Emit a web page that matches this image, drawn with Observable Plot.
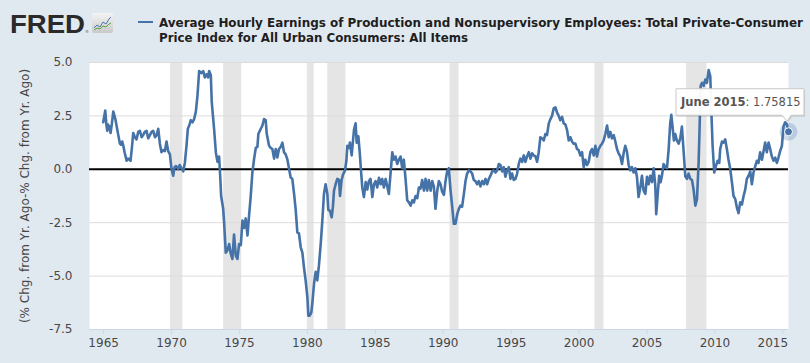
<!DOCTYPE html>
<html>
<head>
<meta charset="utf-8">
<script src="https://cdn.jsdelivr.net/npm/d3@7"></script>
<script src="https://cdn.jsdelivr.net/npm/@observablehq/plot@0.6"></script>
<style>
  html, body { margin: 0; padding: 0; background: #e1e9f0; }
  #wrap { position: relative; width: 810px; height: 363px; overflow: hidden; background: #e1e9f0; }
  #header { display: block; }
  #overlay { position: absolute; left: 0; top: 0; pointer-events: none; }
</style>
</head>
<body>
<div id="wrap">
  <svg id="header" width="810" height="50" xmlns="http://www.w3.org/2000/svg">
    <defs>
      <linearGradient id="icong" x1="0" y1="0" x2="0" y2="1">
        <stop offset="0" stop-color="#f4f4f4"/>
        <stop offset="1" stop-color="#c9c9c9"/>
      </linearGradient>
    </defs>
    <text x="10" y="33" font-family="Liberation Sans, Arial, sans-serif" font-weight="bold" font-size="26.5" fill="#2a2a2a" textLength="75" lengthAdjust="spacingAndGlyphs">FRED</text>
    <text x="85" y="33" font-family="DejaVu Sans, sans-serif" font-size="4" fill="#555">®</text>
    <rect x="92" y="13" width="21" height="20" rx="2" fill="url(#icong)"/>
    <polyline points="94,28 97,25 100,27 103,22 106,24 109,19 111,17" fill="none" stroke="#4a78b0" stroke-width="1"/>
    <polyline points="94,30 97,28 100,29 103,26 106,27 109,24 111,23" fill="none" stroke="#5aa24a" stroke-width="1"/>
    <line x1="138" x2="153" y1="22" y2="22" stroke="#4572a7" stroke-width="2"/>
    <text id="t1" x="159" y="27" font-family="DejaVu Sans Condensed, DejaVu Sans, sans-serif" font-weight="bold" font-size="13" fill="#1e1e1e" textLength="644" lengthAdjust="spacingAndGlyphs">Average Hourly Earnings of Production and Nonsupervisory Employees: Total Private-Consumer</text>
    <text id="t2" x="159" y="42" font-family="DejaVu Sans Condensed, DejaVu Sans, sans-serif" font-weight="bold" font-size="13" fill="#1e1e1e" textLength="309" lengthAdjust="spacingAndGlyphs">Price Index for All Urban Consumers: All Items</text>
  </svg>
  <div id="chart"></div>
  <svg id="overlay" width="810" height="363" xmlns="http://www.w3.org/2000/svg"></svg>
</div>
<script>
// ---- Data (decimal year, percentage-point difference) ----
const t1965 = [1964.97,1965.05,1965.12,1965.2,1965.27,1965.33,1965.39,1965.45,1965.51,1965.6,1965.71,1965.8,1965.88,1965.98,1966.08,1966.2,1966.28,1966.37,1966.45,1966.54,1966.62,1966.69,1966.8,1966.9,1966.98,1967.08,1967.18,1967.3,1967.42,1967.55,1967.67,1967.8,1967.91,1968.03,1968.16,1968.28,1968.41,1968.53,1968.65,1968.78,1968.9,1969.02,1969.14,1969.26,1969.38,1969.51,1969.63,1969.75,1969.88,1970.0,1970.12,1970.22,1970.32,1970.42,1970.49,1970.6,1970.73,1970.86,1970.98,1971.1,1971.2,1971.3,1971.42,1971.54,1971.66,1971.79,1971.91,1972.03,1972.12,1972.2,1972.33,1972.45,1972.57,1972.69,1972.77,1972.89,1972.96,1973.13,1973.26,1973.38,1973.5,1973.58,1973.65,1973.8,1973.87,1973.99,1974.11,1974.24,1974.36,1974.48,1974.6,1974.73,1974.85,1974.97];
const v1965 = [2.2,2.5,2.75,2.1,1.8,2.1,1.9,2.0,1.7,2.1,2.7,2.5,2.3,1.95,1.6,1.2,1.15,1.3,1.1,0.8,0.6,0.4,0.5,0.45,0.4,1.0,1.7,1.5,1.4,1.75,1.8,1.5,1.6,1.75,1.8,1.45,1.6,1.75,1.8,1.5,1.6,1.9,1.2,0.8,0.9,0.85,1.3,0.85,0.7,0.0,-0.3,0.1,0.15,0.1,0.0,0.2,0.05,-0.1,0.3,1.1,1.9,2.05,2.3,2.2,2.35,2.7,3.45,4.6,4.55,4.5,4.6,4.3,4.45,4.3,4.6,4.4,3.15,1.9,0.8,0.35,0.6,-0.3,-1.25,-1.85,-2.5,-3.9,-3.8,-3.5,-3.95,-4.2,-3.05,-4.05,-4.2,-3.5];

const t1975 = [1975.1,1975.22,1975.34,1975.46,1975.59,1975.71,1975.83,1975.95,1976.08,1976.2,1976.32,1976.39,1976.57,1976.69,1976.81,1976.93,1977.01,1977.18,1977.3,1977.42,1977.55,1977.67,1977.79,1977.91,1978.04,1978.16,1978.28,1978.4,1978.53,1978.65,1978.77,1978.89,1979.02,1979.14,1979.26,1979.38,1979.51,1979.63,1979.75,1979.87,1980.0,1980.07,1980.17,1980.29,1980.36,1980.49,1980.61,1980.73,1980.85,1980.98,1981.1,1981.22,1981.34,1981.47,1981.54,1981.66,1981.79,1981.88,1981.96,1982.08,1982.2,1982.33,1982.4,1982.52,1982.62,1982.77,1982.87,1982.94,1983.06,1983.13,1983.26,1983.43,1983.55,1983.63,1983.75,1983.84,1983.94,1984.04,1984.16,1984.29,1984.41,1984.53,1984.65,1984.78,1984.9];
const v1975 = [-3.55,-2.4,-2.75,-2.3,-3.1,-2.15,-1.25,-0.15,0.5,1.0,1.05,1.65,1.9,2.05,2.35,2.3,1.65,1.1,1.0,0.95,0.5,0.95,0.55,0.95,1.05,1.25,0.8,0.7,0.45,0.02,-0.38,-0.45,-1.15,-1.9,-2.95,-3.0,-3.65,-3.9,-4.6,-5.2,-6.0,-6.85,-6.85,-6.7,-6.3,-5.35,-4.8,-5.2,-4.5,-3.5,-2.4,-1.15,-0.7,-1.15,-1.9,-1.95,-2.25,-1.75,-1.0,-0.7,-0.45,-0.5,-1.25,-0.5,-0.25,-0.05,0.4,1.1,1.0,1.25,0.65,1.85,2.15,1.25,1.55,0.9,0.0,-0.85,-1.3,-0.6,-0.95,-0.55,-0.45,-1.3,-0.7];

const t1985 = [1985.02,1985.14,1985.27,1985.39,1985.51,1985.63,1985.76,1985.88,1986.0,1986.12,1986.25,1986.37,1986.49,1986.61,1986.74,1986.86,1986.98,1987.1,1987.23,1987.35,1987.47,1987.6,1987.72,1987.84,1987.96,1988.09,1988.21,1988.33,1988.45,1988.58,1988.7,1988.82,1988.94,1989.07,1989.19,1989.31,1989.43,1989.56,1989.68,1989.8,1989.92,1990.05,1990.17,1990.29,1990.41,1990.54,1990.66,1990.78,1990.9,1991.03,1991.15,1991.27,1991.39,1991.52,1991.64,1991.76,1991.88,1992.01,1992.13,1992.25,1992.37,1992.5,1992.62,1992.74,1992.87,1992.99,1993.11,1993.23,1993.36,1993.48,1993.6,1993.72,1993.85,1993.97,1994.09,1994.21,1994.34,1994.46,1994.58,1994.7,1994.83,1994.95];
const v1985 = [-0.55,-0.85,-0.4,-0.7,-0.45,-0.85,-0.45,-0.8,-1.15,-0.2,0.8,0.45,0.6,0.25,0.45,0.6,0.05,0.45,-0.5,-1.45,-1.55,-1.7,-1.45,-1.55,-1.25,-1.35,-0.85,-0.9,-0.5,-1.0,-0.45,-1.0,-0.5,-1.0,-0.55,-0.8,-1.85,-1.0,-0.55,-0.7,-1.05,-1.2,-0.55,-0.1,0.05,-1.0,-1.75,-2.55,-2.55,-2.1,-1.85,-1.7,-1.75,-1.15,-0.55,-0.2,-0.05,-0.1,-0.2,-0.5,-0.55,-0.7,-0.55,-0.8,-0.55,-0.7,-0.45,-0.7,-0.45,-0.3,-0.1,-0.05,-0.15,-0.05,0.25,0.2,-0.1,0.1,-0.35,-0.05,0.1,-0.45];

const t1995 = [1995.07,1995.19,1995.32,1995.44,1995.56,1995.68,1995.81,1995.93,1996.05,1996.17,1996.3,1996.42,1996.54,1996.66,1996.79,1996.91,1997.03,1997.15,1997.28,1997.4,1997.52,1997.64,1997.77,1997.89,1998.01,1998.13,1998.26,1998.38,1998.5,1998.62,1998.75,1998.87,1998.99,1999.11,1999.24,1999.36,1999.48,1999.6,1999.73,1999.85,1999.97,2000.09,2000.22,2000.34,2000.46,2000.59,2000.71,2000.83,2000.95,2001.08,2001.2,2001.32,2001.44,2001.57,2001.69,2001.81,2001.93,2002.06,2002.18,2002.3,2002.42,2002.55,2002.67,2002.79,2002.91,2003.04,2003.16,2003.28,2003.4,2003.53,2003.65,2003.77,2003.89,2004.02,2004.14,2004.26,2004.38,2004.51,2004.63,2004.75,2004.88];
const v1995 = [-0.2,-0.5,-0.45,-0.2,0.25,0.5,0.35,0.65,0.35,0.6,0.8,0.5,0.75,0.65,0.6,0.35,0.8,1.5,1.45,1.35,1.65,1.6,2.15,2.35,2.5,2.85,2.9,2.65,2.5,2.3,2.45,2.15,2.1,1.85,1.35,1.5,1.3,1.2,1.2,0.95,0.9,0.65,0.8,0.1,0.45,0.2,0.35,0.8,0.95,0.65,1.1,0.6,0.95,1.1,1.2,1.35,1.65,2.05,1.5,1.75,1.45,1.6,1.3,0.95,0.75,0.6,0.25,0.75,1.1,0.8,0.2,-0.05,0.1,-0.15,0.05,-0.35,-1.3,-0.85,-0.3,-1.0,-1.15];

const t2005 = [2005.0,2005.12,2005.24,2005.37,2005.49,2005.61,2005.68,2005.81,2005.9,2006.0,2006.1,2006.22,2006.35,2006.47,2006.59,2006.71,2006.79,2006.88,2006.98,2007.08,2007.2,2007.33,2007.45,2007.57,2007.69,2007.82,2007.94,2008.06,2008.19,2008.31,2008.43,2008.56,2008.68,2008.8,2008.87,2008.95,2009.05,2009.17,2009.29,2009.41,2009.54,2009.66,2009.73,2009.83,2009.95,2010.07,2010.2,2010.32,2010.39,2010.52,2010.64,2010.76,2010.88,2011.0,2011.13,2011.25,2011.37,2011.5,2011.62,2011.74,2011.86,2011.99,2012.11,2012.23,2012.35,2012.48,2012.6,2012.72,2012.84,2012.97,2013.09,2013.21,2013.33,2013.46,2013.58,2013.7,2013.82,2013.95,2014.07,2014.19,2014.32,2014.44,2014.56,2014.68,2014.8,2014.93,2015.05,2015.17,2015.3,2015.417];
const v2005 = [-0.35,-0.7,-0.3,-0.6,0.05,-0.75,-2.1,-1.0,-0.3,-0.6,-0.3,0.25,0.1,0.05,0.9,2.15,2.55,2.0,1.35,1.65,1.35,1.2,1.45,2.0,0.9,-0.33,-0.45,-0.2,-0.45,-0.5,-0.95,-1.7,-1.4,0.3,1.9,3.9,4.05,3.9,4.2,4.05,4.65,4.35,2.85,1.1,-0.15,0.15,0.4,0.3,0.95,1.3,1.25,1.4,0.95,0.45,0.0,-0.6,-1.25,-1.4,-1.8,-2.05,-1.55,-1.65,-1.25,-0.95,-0.45,-0.3,-0.1,-0.7,-0.15,0.15,0.4,0.3,0.8,0.45,0.85,1.25,0.8,1.25,0.95,0.6,0.4,0.55,0.3,0.55,0.85,1.1,2.0,2.2,2.1,1.758];

// Recessions (decimal-year start/end of shading)
const recStart = [1969.917, 1973.833, 1980.0, 1981.5, 1990.5, 2001.167, 2007.917];
const recEnd   = [1970.833, 1975.167, 1980.5, 1982.833, 1991.167, 2001.833, 2009.417];

// Axis ticks
const xTicks = [1965, 1970, 1975, 1980, 1985, 1990, 1995, 2000, 2005, 2010, 2015];
const yTicks = [-7.5, -5, -2.5, 0, 2.5, 5];
const yGrid = [-5, -2.5, 2.5, 5];

const yLabel = "(% Chg. from Yr. Ago-% Chg. from Yr. Ago)";
const tipDate = "June 2015";
const tipValue = "1.75815";

// ---- Build table ----
const series = [];
[[t1965, v1965], [t1975, v1975], [t1985, v1985], [t1995, v1995], [t2005, v2005]].forEach(([t, v]) => {
  t.forEach((d, i) => series.push({t: d, v: v[i]}));
});
const recessions = recStart.map((s, i) => ({s, e: recEnd[i]}));
const last = [series[series.length - 1]];

const lineColor = "#4572a7";

const plot = Plot.plot({
  width: 810,
  height: 313,
  marginTop: 12,
  marginLeft: 89,
  marginRight: 22,
  marginBottom: 34,
  style: {background: "transparent", fontFamily: "DejaVu Sans, sans-serif", fontSize: "12px", color: "#474747", overflow: "visible"},
  x: {domain: [1963.96, 2015.417]},
  y: {domain: [-7.5, 5]},
  marks: [
    Plot.frame({fill: "white", stroke: "none"}),
    Plot.rect(recessions, {x1: "s", x2: "e", fill: "#e5e5e5"}),
    Plot.ruleY(yGrid, {stroke: "#dcdcdc", strokeWidth: 1}),
    Plot.ruleY([-7.5], {stroke: "#ccd6eb", strokeWidth: 1}),
    Plot.ruleY([0], {stroke: "#000", strokeWidth: 2}),
    Plot.line(series, {x: "t", y: "v", stroke: lineColor, strokeWidth: 2.6, strokeLinejoin: "round"}),
    Plot.dot(last, {x: "t", y: "v", r: 9, fill: lineColor, fillOpacity: 0.25, stroke: "none"}),
    Plot.dot(last, {x: "t", y: "v", r: 4, fill: lineColor, stroke: "white", strokeWidth: 1}),
    Plot.axisY({ticks: yTicks, tickFormat: d => d.toFixed(1), tickSize: 0, tickPadding: 17, label: null, fill: "#474747", fontSize: 12}),
    Plot.axisX({ticks: xTicks, tickFormat: d => (d === 2015 ? "" : String(d)), tickSize: 5, tickPadding: 4, stroke: "#ccd6eb", fill: "#474747", label: null, fontSize: 12}),
    Plot.text([2015], {x: d => d, frameAnchor: "bottom", dy: 9, dx: -10, lineAnchor: "top", text: d => String(d), fill: "#474747", fontSize: 12}),
    Plot.text([yLabel], {frameAnchor: "left", textAnchor: "middle", lineAnchor: "middle", dx: -64, rotate: -90, text: d => d, fill: "#474747", fontSize: 12})
  ]
});
document.getElementById("chart").appendChild(plot);

// ---- Tooltip overlay (positioned from the plot's own scales) ----
const px = plot.scale("x").apply(last[0].t);
const py = plot.scale("y").apply(last[0].v) + 50;
const ns = "http://www.w3.org/2000/svg";
const ov = document.getElementById("overlay");
const bx = px - 112, by = py - 42.5, bw = 128, bh = 26.5;
const pathD = `M${bx},${by} H${bx + bw} V${by + bh} H${px + 3} L${px - 1},${by + bh + 6} L${px - 6},${by + bh} H${bx} Z`;
const shadow = document.createElementNS(ns, "path");
shadow.setAttribute("d", pathD);
shadow.setAttribute("transform", "translate(1,1.5)");
shadow.setAttribute("fill", "#000");
shadow.setAttribute("fill-opacity", "0.12");
ov.appendChild(shadow);
const box = document.createElementNS(ns, "path");
box.setAttribute("d", pathD);
box.setAttribute("fill", "white");
box.setAttribute("fill-opacity", "0.96");
box.setAttribute("stroke", "#c8c8c8");
box.setAttribute("stroke-width", "1");
ov.appendChild(box);
const txt = document.createElementNS(ns, "text");
txt.setAttribute("x", bx + 5);
txt.setAttribute("y", by + 17.5);
txt.setAttribute("font-family", "DejaVu Sans, sans-serif");
txt.setAttribute("font-size", "11.5");
txt.setAttribute("fill", "#555");
const ts1 = document.createElementNS(ns, "tspan");
ts1.setAttribute("font-weight", "bold");
ts1.textContent = tipDate;
const ts2 = document.createElementNS(ns, "tspan");
ts2.textContent = ": " + tipValue;
txt.appendChild(ts1);
txt.appendChild(ts2);
ov.appendChild(txt);
</script>
</body>
</html>
